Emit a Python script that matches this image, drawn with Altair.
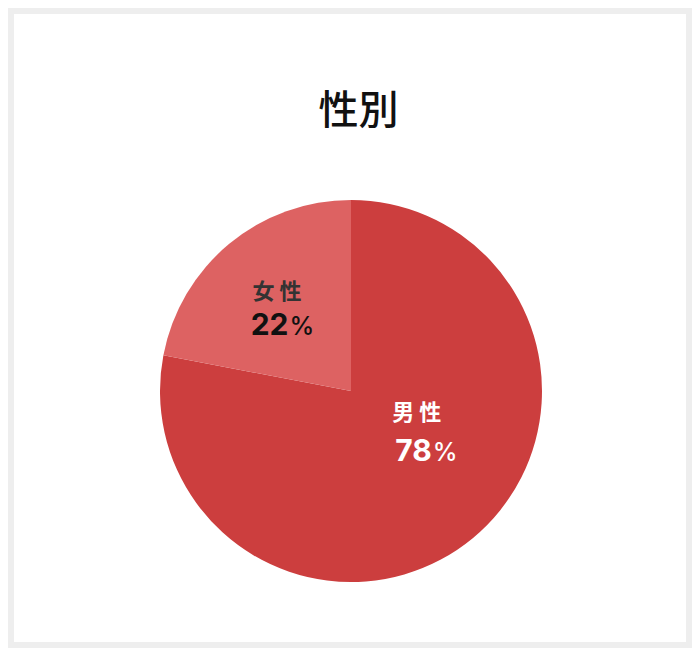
import math
import altair as alt
import pandas as pd

categories = ["男性", "女性"]
values = [78, 22]
order = [1, 2]
slice_colors = ["#cc3e3e", "#dd6262"]
name_colors = ["#ffffff", "#333333"]
num_colors = ["#ffffff", "#111111"]
name_labels = ["男 性", "女 性"]

df = pd.DataFrame({
    "cat": categories,
    "value": values,
    "ord": order,
    "name": name_labels,
    "num": [str(v) for v in values],
})

CX, CY, R = 337, 377, 191
FONT_CJK = "Noto Sans CJK JP"
FONT_NUM = "Inter"

base = alt.Chart(df)

pie = base.mark_arc(outerRadius=R, stroke=None).encode(
    theta=alt.Theta("value:Q", stack=True),
    order=alt.Order("ord:Q"),
    color=alt.Color("cat:N", scale=alt.Scale(domain=categories, range=slice_colors), legend=None),
    x=alt.value(CX),
    y=alt.value(CY),
)

theta_mid = alt.Theta("mid:Q", scale=alt.Scale(domain=[0, 100], range=[0, 2 * math.pi]))


def labels(cat, radius, name_dx, name_dy, num_dx, num_dy, name_color, num_color):
    b = base.transform_window(
        cum="sum(value)", sort=[alt.SortField("ord")]
    ).transform_calculate(
        mid="datum.cum - datum.value / 2"
    ).transform_filter(alt.datum.cat == cat)
    common = dict(theta=theta_mid, radius=alt.value(radius), x=alt.value(CX), y=alt.value(CY))
    name = b.mark_text(font=FONT_CJK, fontSize=22, fontWeight="bold", color=name_color,
                       baseline="middle", align="center", dx=name_dx, dy=name_dy).encode(
        text="name:N", **common)
    num = b.mark_text(font=FONT_NUM, fontSize=30, fontWeight="bold", color=num_color,
                      baseline="alphabetic", align="right", dx=num_dx, dy=num_dy).encode(
        text="num:N", **common)
    pct = b.mark_text(font=FONT_NUM, fontSize=25, fontWeight=500, color=num_color,
                      baseline="alphabetic", align="left", dx=num_dx + 1, dy=num_dy).encode(
        text=alt.value("%"), **common)
    return [name, num, pct]


layers = [pie]
layers += labels("女性", 120, 2.5, -7, 14, 36.5, name_colors[1], num_colors[1])
layers += labels("男性", 90, 8.5, -47.5, 23.5, 0.5, name_colors[0], num_colors[0])

chart = alt.layer(*layers).resolve_scale(theta="independent").properties(
    width=672,
    height=628,
    padding=6,
    background="#eeeeee",
    title=alt.TitleParams(
        "性別", font=FONT_CJK, fontSize=40, fontWeight=500, color="#111111",
        anchor="middle", orient="top", frame="group", baseline="bottom",
        offset=-158, dx=8.5,
    ),
).configure_view(fill="white", strokeWidth=0)

chart.save("out.html", embed_options={"renderer": "svg", "actions": False})
